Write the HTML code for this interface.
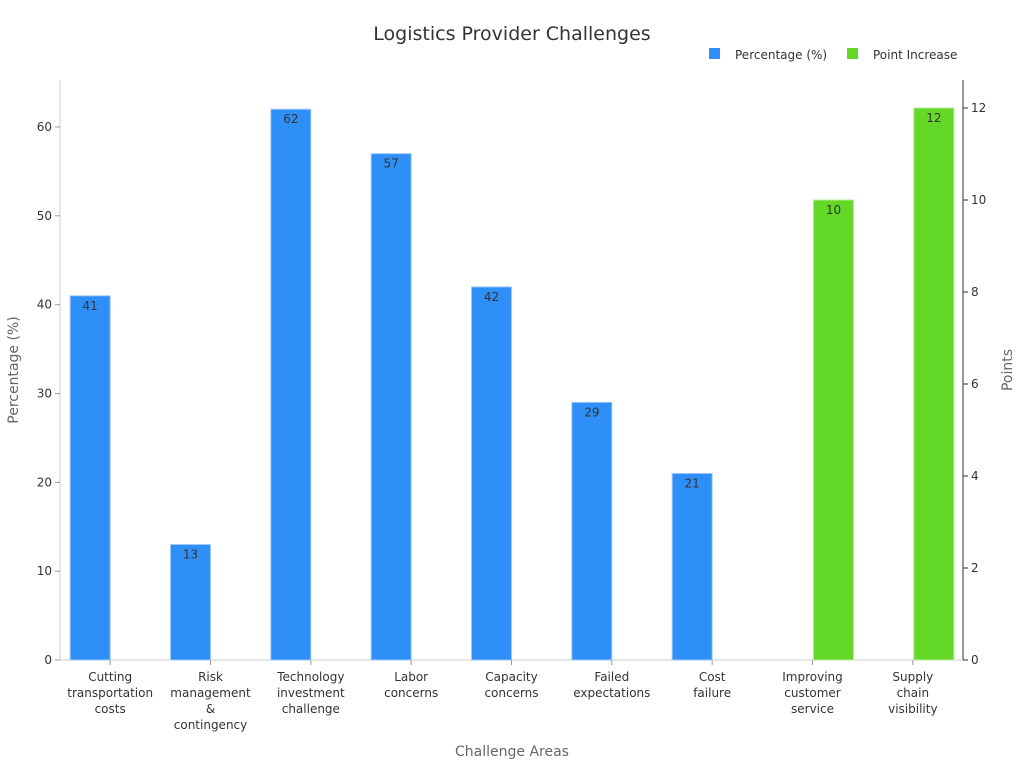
<!DOCTYPE html>
<html><head><meta charset="utf-8"><style>
body{margin:0;background:#fff;}
svg{font-family:"DejaVu Sans","Liberation Sans",sans-serif;}
</style></head><body>
<svg id="c" width="1024" height="768">
<text x="512" y="40" text-anchor="middle" font-size="19" fill="#333">Logistics Provider Challenges</text>
<g>
<rect x="709" y="48" width="11" height="11" fill="#2e8ff8"/>
<text x="735" y="59" font-size="12" fill="#333">Percentage (%)</text>
<rect x="847" y="48" width="11" height="11" fill="#64d827"/>
<text x="873" y="59" font-size="12" fill="#333">Point Increase</text>
</g>
<text x="512" y="756" text-anchor="middle" font-size="14" fill="#666">Challenge Areas</text>
<text transform="translate(18,370) rotate(-90)" text-anchor="middle" font-size="14" fill="#666">Percentage (%)</text>
<text transform="translate(1012,370) rotate(-90)" text-anchor="middle" font-size="14" fill="#666">Points</text>
<g id="g"></g>
</svg>
<script>
const categories=[["Cutting","transportation","costs"],["Risk","management","&","contingency"],["Technology","investment","challenge"],["Labor","concerns"],["Capacity","concerns"],["Failed","expectations"],["Cost","failure"],["Improving","customer","service"],["Supply","chain","visibility"]];
const percentValues=[41,13,62,57,42,29,21,null,null];
const pointValues=[null,null,null,null,null,null,null,10,12];
const leftTicks=[0,10,20,30,40,50,60];
const rightTicks=[0,2,4,6,8,10,12];
const NS="http://www.w3.org/2000/svg";
const g=document.getElementById("g");
const L=60,R=963,B=660;
const yL=v=>B-v*(533/60);
const yR=v=>B-v*(552/12);
const bw=(R-L)/categories.length;
const xc=i=>L+bw*(i+0.5);
function mk(t,a,p){const e=document.createElementNS(NS,t);for(const k in a)e.setAttribute(k,a[k]);(p||g).appendChild(e);return e;}
let e;
e=mk("line",{x1:L,y1:80,x2:L,y2:B,stroke:"#ccc"});


e=mk("line",{x1:R,y1:80,x2:R,y2:B,stroke:"#333"});


e=mk("line",{x1:L,y1:B,x2:R,y2:B,stroke:"#ccc"});


leftTicks.forEach(t=>{
 mk("line",{x1:L-5,y1:yL(t),x2:L,y2:yL(t),stroke:"#999"});
 e=mk("text",{x:L-8,y:yL(t)+4,"text-anchor":"end","font-size":12,fill:"#333"});e.textContent=t;
 
 
});
rightTicks.forEach(t=>{
 mk("line",{x1:R,y1:yR(t),x2:R+5,y2:yR(t),stroke:"#333"});
 e=mk("text",{x:R+8,y:yR(t)+4,"font-size":12,fill:"#333"});e.textContent=t;
 
 
});
categories.forEach((c,i)=>{
 const x=xc(i);
 mk("line",{x1:x,y1:B,x2:x,y2:B+5,stroke:"#999"});
 e=mk("text",{"text-anchor":"middle","font-size":12,fill:"#333"});
 
 
 c.forEach((w,j)=>{const s=mk("tspan",{x:x,y:681+j*16},e);s.textContent=w;});
 if(percentValues[i]!=null){
  const v=percentValues[i];
  e=mk("rect",{x:x-40,y:yL(v),width:40,height:B-yL(v),fill:"#2e8ff8",stroke:"#9fc9f7","stroke-width":1});
  
  
  e=mk("text",{x:x-20,y:yL(v)+14,"text-anchor":"middle","font-size":12,fill:"#333"});e.textContent=v;
  
  
 }
 if(pointValues[i]!=null){
  const v=pointValues[i];
  e=mk("rect",{x:x+1,y:yR(v),width:40,height:B-yR(v),fill:"#64d827",stroke:"#b4eb95","stroke-width":1});
  
  
  e=mk("text",{x:x+21,y:yR(v)+14,"text-anchor":"middle","font-size":12,fill:"#333"});e.textContent=v;
  
  
 }
});
</script>
</body></html>
